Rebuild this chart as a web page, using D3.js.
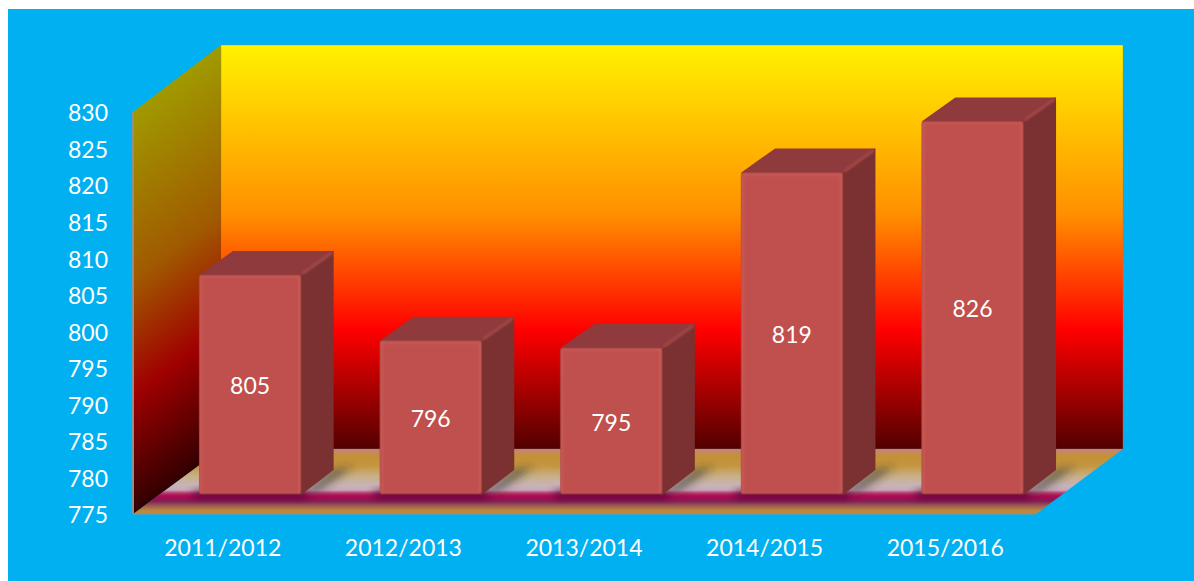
<!DOCTYPE html>
<html>
<head>
<meta charset="utf-8">
<script src="https://cdnjs.cloudflare.com/ajax/libs/d3/7.8.5/d3.min.js"></script>
<style>
  html, body { margin: 0; padding: 0; background: #fff; }
  svg { display: block; }
  text { font-family: Lato, "Open Sans", sans-serif; fill: #fff; }
</style>
</head>
<body>
<svg width="1194" height="581"></svg>
<script>
var categories = ['2011/2012', '2012/2013', '2013/2014', '2014/2015', '2015/2016'];
var values = [805, 796, 795, 819, 826];
var yTicks = [775, 780, 785, 790, 795, 800, 805, 810, 815, 820, 825, 830];

var width = 1194, height = 581;
var plot = {left: 133, right: 1036, top: 112, bottom: 514};
var depth = {x: 88, y: -65};                 // front of the box to the back wall
var barFront = 0.31, barBack = 0.685;        // where a bar sits inside that depth

var svg = d3.select('svg');
var defs = svg.append('defs');

var xScale = d3.scaleBand()
  .domain(categories)
  .range([plot.left, plot.right])
  .paddingInner(0.44)
  .paddingOuter(0.22);

var yScale = d3.scaleLinear()
  .domain([yTicks[0], yTicks[yTicks.length - 1]])
  .range([plot.bottom, plot.top]);

var poly = d3.line().curve(d3.curveLinearClosed);

function addGradient(id, coords, stops, transform) {
  var g = defs.append('linearGradient')
    .attr('id', id)
    .attr('gradientUnits', 'userSpaceOnUse')
    .attr('x1', coords[0]).attr('y1', coords[1])
    .attr('x2', coords[2]).attr('y2', coords[3]);
  if (transform) g.attr('gradientTransform', transform);
  stops.forEach(s => {
    g.append('stop').attr('offset', s[0]).attr('stop-color', s[1]);
  });
}

var backLeft = plot.left + depth.x, backRight = plot.right + depth.x - 1;
var backTop = plot.top + depth.y - 2, backBottom = plot.bottom + depth.y;

addGradient('wallBack', [0, backTop, 0, backBottom], [
  [0, '#fff200'], [0.42, '#ff8f00'], [0.705, '#ff0000'], [1, '#520000']
]);
// same colours, darker, with the bands running along the slope of the side wall
addGradient('wallSide', [0, backTop, 0, backBottom], [
  [0, '#a09a00'], [0.42, '#a05a00'], [0.705, '#a00000'], [1, '#320000']
], `matrix(1,${depth.y / depth.x},0,1,0,${-depth.y / depth.x * backLeft})`);
addGradient('floor', [0, backBottom, 0, plot.bottom], [
  [0, '#c87f92'], [0.05, '#c78a5c'], [0.1, '#c49038'], [0.26, '#c4963f'],
  [0.42, '#c9b088'], [0.56, '#c8b3b8'], [0.63, '#c9a8b8'], [0.68, '#b8356c'],
  [0.72, '#ad0c52'], [0.76, '#a00c55'], [0.8, '#7f1f55'], [0.88, '#a0604f'], [0.95, '#bd8a3e'], [1, '#b9893f']
]);

defs.append('filter').attr('id', 'blurWide')
  .attr('x', '-30%').attr('y', '-80%').attr('width', '160%').attr('height', '260%')
  .append('feGaussianBlur').attr('stdDeviation', 4);
defs.append('filter').attr('id', 'blurEdge')
  .attr('x', '-10%').attr('y', '-10%').attr('width', '120%').attr('height', '120%')
  .append('feGaussianBlur').attr('stdDeviation', 0.8);

var floorShape = [
  [plot.left, plot.bottom], [backLeft, backBottom], [backRight, backBottom], [plot.right, plot.bottom]
];
defs.append('clipPath').attr('id', 'floorClip')
  .append('path').attr('d', poly(floorShape));

// chart area
svg.append('rect')
  .attr('x', 8).attr('y', 9)
  .attr('width', width - 8).attr('height', height - 9)
  .attr('fill', '#00b0f0');

// box
svg.append('path')
  .attr('d', poly(floorShape))
  .attr('fill', 'url(#floor)');
svg.append('rect')
  .attr('x', backLeft).attr('y', backTop)
  .attr('width', backRight - backLeft).attr('height', backBottom - backTop)
  .attr('fill', 'url(#wallBack)')
  .attr('stroke', '#8a8a6a').attr('stroke-opacity', 0.35).attr('stroke-width', 1);
svg.append('path')
  .attr('d', poly([[plot.left, plot.top], [backLeft, backTop], [backLeft, backBottom], [plot.left, plot.bottom]]))
  .attr('fill', 'url(#wallSide)');
svg.append('line')
  .attr('x1', plot.left).attr('x2', plot.left)
  .attr('y1', plot.top).attr('y2', plot.bottom)
  .attr('stroke', '#8f8f8f').attr('stroke-width', 2);
svg.append('line')
  .attr('x1', plot.left).attr('x2', plot.right)
  .attr('y1', plot.bottom).attr('y2', plot.bottom)
  .attr('stroke', '#8f8f8f').attr('stroke-width', 1);

// bar corners, all worked out from the scales
var bars = categories.map((c, i) => {
  var fx = xScale(c) + depth.x * barFront;
  var bw = xScale.bandwidth();
  var fy = depth.y * barFront;
  var dx = depth.x * (barBack - barFront), dy = depth.y * (barBack - barFront);
  return {
    name: c, value: values[i],
    x0: fx - 0.5, x1: fx + bw - 0.5, dx: dx, dy: dy,
    top: yScale(values[i]) + fy + 0.7, bottom: yScale.range()[0] + fy
  };
});

// floor shadows
var shadows = svg.append('g').attr('clip-path', 'url(#floorClip)');
shadows.selectAll('.side-shadow')
  .data(bars).join('path')
  .attr('class', 'side-shadow')
  .attr('d', d => poly([
    [d.x1, d.bottom],
    [d.x1 + d.dx, d.bottom + d.dy],
    [d.x1 + d.dx + 20, d.bottom + d.dy - 3],
    [d.x1 + 18, d.bottom - 3]
  ]))
  .attr('fill', '#2a2a22').attr('fill-opacity', 0.62)
  .attr('filter', 'url(#blurWide)');
shadows.selectAll('.front-shadow')
  .data(bars).join('rect')
  .attr('class', 'front-shadow')
  .attr('x', d => d.x0 - 6).attr('y', d => d.bottom - 3)
  .attr('width', d => d.x1 - d.x0 + 12).attr('height', 7)
  .attr('fill', '#3c0030').attr('fill-opacity', 0.8)
  .attr('filter', 'url(#blurWide)');

// bars
var barG = svg.selectAll('.bar').data(bars).join('g').attr('class', 'bar');

barG.append('path')
  .attr('d', d => poly([
    [d.x1, d.top], [d.x1 + d.dx - 1, d.top + d.dy + 1],
    [d.x1 + d.dx - 1, d.bottom + d.dy], [d.x1, d.bottom]
  ]))
  .attr('fill', '#7b3131').attr('stroke', '#7b3131')
  .attr('stroke-width', 2).attr('stroke-linejoin', 'round');
barG.append('path')
  .attr('d', d => poly([
    [d.x0 + 1, d.top], [d.x0 + d.dx + 1, d.top + d.dy + 1],
    [d.x1 + d.dx - 1, d.top + d.dy + 1], [d.x1, d.top]
  ]))
  .attr('fill', '#8f3a3c').attr('stroke', '#8f3a3c')
  .attr('stroke-width', 2).attr('stroke-linejoin', 'round');
barG.append('line')
  .attr('x1', d => d.x1 + 2).attr('y1', d => d.top - 2)
  .attr('x2', d => d.x1 + d.dx - 2).attr('y2', d => d.top + d.dy + 2)
  .attr('stroke', '#a04747').attr('stroke-width', 3)
  .attr('filter', 'url(#blurEdge)');
barG.append('rect')
  .attr('x', d => d.x0).attr('y', d => d.top)
  .attr('width', d => d.x1 - d.x0).attr('height', d => d.bottom - d.top)
  .attr('rx', 2)
  .attr('fill', '#c0504d')
  .attr('stroke', '#a84643').attr('stroke-opacity', 0.7).attr('stroke-width', 1);
barG.append('path')
  .attr('d', d => `M${d.x0 + 1.5},${d.bottom - 1}V${d.top + 1.5}H${d.x1 - 1.5}V${d.bottom - 1}`)
  .attr('fill', 'none')
  .attr('stroke', '#c85e5b').attr('stroke-width', 1.5)
  .attr('filter', 'url(#blurEdge)');

var labelSize = 23;

barG.append('text')
  .attr('x', d => (d.x0 + d.x1) / 2)
  .attr('y', d => (d.top + d.bottom) / 2)
  .attr('dy', '0.42em')
  .attr('text-anchor', 'middle')
  .attr('font-size', labelSize)
  .text(d => d.value);

// axes, lines off, only the labels stay
var yAxis = d3.axisLeft(yScale).tickValues(yTicks).tickSize(0).tickPadding(25);
var yG = svg.append('g')
  .attr('transform', `translate(${plot.left},1.5)`)
  .call(yAxis);
var xAxis = d3.axisBottom(xScale).tickSize(0).tickPadding(26);
var xG = svg.append('g')
  .attr('transform', `translate(-0.5,${plot.bottom})`)
  .call(xAxis);
[yG, xG].forEach(g => {
  g.select('.domain').remove();
  g.attr('font-family', null).attr('font-size', null);
  g.selectAll('text').attr('font-size', labelSize);
});
</script>
</body>
</html>
